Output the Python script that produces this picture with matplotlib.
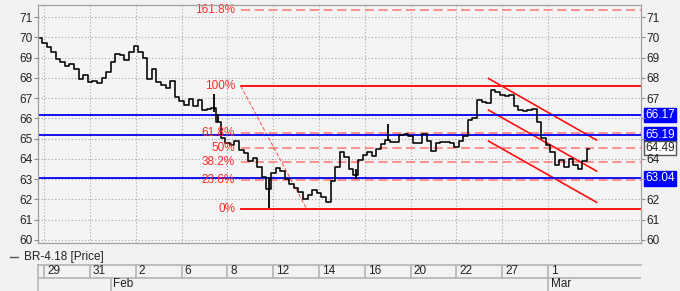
import numpy as np
import matplotlib.pyplot as plt
from matplotlib.transforms import blended_transform_factory

plt.rcParams['font.family'] = ['Liberation Sans', 'DejaVu Sans']

# price bars, one every 0.2 trading day (x axis: 2 units per date tick)
close = [69.95, 69.7, 69.5, 69.3, 68.95, 68.8, 68.6, 68.7, 68.45, 67.95,
         68.15, 67.8, 67.85, 67.75, 68.0, 68.3, 68.8, 69.2, 69.15, 68.9,
         69.3, 69.55, 69.3, 69.0, 67.95, 68.45, 67.8, 67.65, 67.5, 67.85,
         67.05, 66.85, 66.65, 66.95, 66.6, 66.9, 66.4, 66.45, 66.5, 65.8,
         65.05, 64.8, 64.7, 64.9, 64.45, 64.3, 63.9, 64.05, 63.6, 63.1,
         62.5, 63.3, 63.55, 63.4, 63.0, 62.75, 62.55, 62.35, 62.0, 62.2,
         62.45, 62.3, 62.1, 61.85, 62.9, 63.6, 64.35, 64.1, 63.5, 63.2,
         63.95, 64.2, 64.35, 64.15, 64.5, 64.75, 64.95, 64.85, 64.85, 65.2,
         65.25, 65.15, 64.8, 64.8, 65.25, 64.9, 64.4, 64.8, 64.85, 64.85,
         64.8, 64.6, 64.9, 65.15, 65.9, 66.0, 66.9, 66.8, 66.75, 67.4,
         67.3, 67.15, 67.1, 67.15, 66.6, 66.4, 66.35, 66.4, 66.45, 65.8,
         65.05, 64.7, 64.35, 63.7, 63.95, 63.6, 64.0, 63.7, 63.5, 63.9,
         64.49]
wick_idx = [38, 39, 50, 69, 76]
wick_lo = [66.3, 65.8, 61.6, 63.0, 64.9]
wick_hi = [67.2, 66.2, 63.1, 63.5, 65.7]

day_labels = ['29', '31', '2', '6', '8', '12', '14', '16', '20', '22', '27', '1']
month_labels = ['Feb', 'Mar']
month_pos = [2.9, 22.0]

fib_pct = ['161.8%', '100%', '61.8%', '50%', '38.2%', '23.6%', '0%']
fib_ratio = [1.618, 1.0, 0.618, 0.5, 0.382, 0.236, 0.0]
fib_low, fib_high = 61.51, 67.60
fib_start, fib_end = 8.58, 11.47

levels = [66.17, 65.19, 63.04]
last_price = 64.49
hidden_right = [63, 65, 66]   # covered by the level boxes

chan_x = [19.4, 24.12]
chan_upper = [67.97, 64.93]
chan_mid = [66.41, 63.40]
chan_low = [64.88, 61.86]

bg = '#f2f2f2'
fig = plt.figure(figsize=(6.8, 2.91), dpi=100, facecolor=bg)
ax = fig.add_axes([38/680, 1 - 243/291, 603/680, 238.5/291], facecolor='#f4f4f4')
x0, x1 = -0.275, 26.06
ylim = (59.85, 71.62)
ax.set_xlim(x0, x1)
ax.set_ylim(*ylim)

xt = np.arange(len(day_labels)) * 2
yt = list(range(60, 72))
ax.set_xticks(xt)
ax.set_xticklabels([])
ax.set_yticks(yt)
ax.grid(True, color='#a8a8a8', linestyle=(0, (1, 2)), linewidth=0.8)
ax.tick_params(axis='x', length=0)
ax.tick_params(axis='y', labelsize=8.5, length=3, color='#909090', pad=1,
               labelcolor='#222222')
for s in ax.spines.values():
    s.set_color('#a0a0a0')

ay = ax.twinx()
ay.set_ylim(*ylim)
ay.set_yticks(yt)
ay.set_yticklabels(['' if t in hidden_right else str(t) for t in yt])
ay.tick_params(axis='y', labelsize=8.5, length=3, color='#909090', pad=1,
               labelcolor='#222222')
for s in ay.spines.values():
    s.set_color('#a0a0a0')

bx = np.arange(len(close)) * 0.2 - 0.2
ax.plot(bx, close, color='black', linewidth=1.15, drawstyle='steps-mid', zorder=5)
ax.vlines(bx[wick_idx], wick_lo, wick_hi, color='black', linewidth=1.3, zorder=5)

# fibonacci retracement
rng = fib_high - fib_low
for lab, r in zip(fib_pct, fib_ratio):
    v = fib_low + r * rng
    if r in (0.0, 1.0):
        ax.plot([fib_start, x1], [v, v], color='#ff0000', linewidth=1.3, zorder=4)
    else:
        ax.plot([fib_start, x1], [v, v], color='#ff7575', linewidth=1.1,
                dashes=(6, 3), zorder=4)
    ax.text(fib_start - 0.25, v, lab, color='#ff2a2a', fontsize=8.5,
            ha='right', va='center', zorder=6)
ax.plot([fib_start, fib_end], [fib_high, fib_low], color='#ff5050',
        linewidth=0.7, dashes=(4, 2), zorder=4)

# trend channel
for ys in (chan_upper, chan_mid, chan_low):
    ax.plot(chan_x, ys, color='#ff1010', linewidth=1.2, zorder=4)

# horizontal levels
tr = blended_transform_factory(ax.transAxes, ax.transData)
for v in levels:
    ax.axhline(v, color='#0000ee', linewidth=1.3, zorder=4)
    ax.text(1.007, v, '%.2f' % v, transform=tr, color='white', fontsize=8.5,
            ha='left', va='center', zorder=10, clip_on=False,
            bbox=dict(boxstyle='square,pad=0.12', facecolor='#0000ff', edgecolor='#0000ff'))
ax.text(1.007, last_price + 0.05, '%.2f' % last_price, transform=tr, color='#222222',
        fontsize=8.5, ha='left', va='center', zorder=10, clip_on=False,
        bbox=dict(boxstyle='square,pad=0.08', facecolor='white', edgecolor='#555555'))

# legend
fig.lines.append(plt.Line2D([10/680, 18/680], [1 - 257/291] * 2, color='#555555',
                            linewidth=1, transform=fig.transFigure))
fig.text(24/680, 1 - 257/291, 'BR-4.18 [Price]', fontsize=8.5, color='#222222',
         va='center', ha='left')

# date band
dx = fig.add_axes([38/680, 0, 603/680, 26.5/291], facecolor=bg)
dx.set_xlim(x0, x1)
dx.set_ylim(0, 2)
dx.axis('off')
lc = '#b4b4b4'
dx.plot([x0, x1], [2, 2], color=lc, linewidth=1.2, clip_on=False)
dx.plot([x0, x1], [1, 1], color=lc, linewidth=1.2)
dx.plot([x0, x0], [0, 2], color=lc, linewidth=1.2, clip_on=False)
for xv, lab in zip(xt, day_labels):
    dx.plot([xv, xv], [1, 2], color=lc, linewidth=1.2)
    dx.text(xv + 0.12, 1.5, lab, fontsize=8.5, color='#222222', ha='left', va='center')
for xv, lab in zip(month_pos, month_labels):
    dx.plot([xv, xv], [0, 1], color=lc, linewidth=1.2)
    dx.text(xv + 0.12, 0.5, lab, fontsize=8.5, color='#222222', ha='left', va='center')

fig.savefig('out.png', dpi=100, facecolor=bg)
